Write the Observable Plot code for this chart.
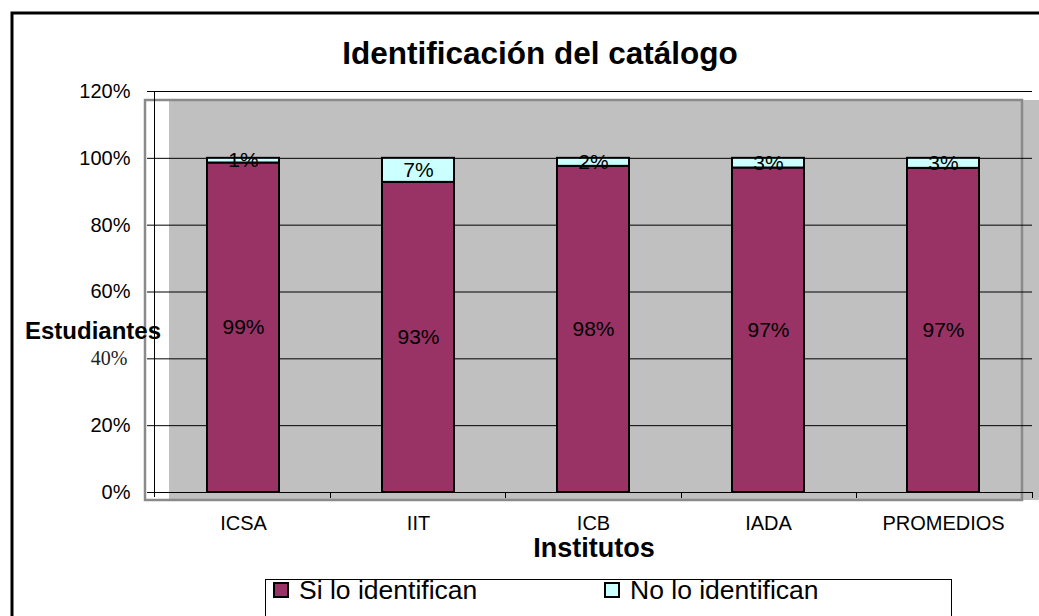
<!DOCTYPE html>
<html>
<head>
<meta charset="utf-8">
<script src="https://cdn.jsdelivr.net/npm/d3@7"></script>
<script src="https://cdn.jsdelivr.net/npm/@observablehq/plot@0.6"></script>
<style>
  html, body { margin: 0; padding: 0; background: #fff; }
  #chart { width: 1039px; height: 616px; overflow: hidden; }
</style>
</head>
<body>
<div id="chart"></div>
<script>
// ---- data ----
const categories = ["ICSA", "IIT", "ICB", "IADA", "PROMEDIOS"];
const siValues = [98.6, 92.8, 97.6, 97.1, 97.0];
const noValues = [1.4, 7.2, 2.4, 2.9, 3.0];
const seriesNames = ["Si lo identifican", "No lo identifican"];
const seriesColors = ["#993366", "#CCFFFF"];
const yTicks = [0, 20, 40, 60, 80, 100, 120];
const titleText = "Identificación del catálogo";
const xTitleText = "Institutos";
const yTitleText = "Estudiantes";

const data = categories.flatMap((c, i) => [
  {inst: c, serie: seriesNames[0], value: siValues[i]},
  {inst: c, serie: seriesNames[1], value: noValues[i]}
]);

const FONT = "'Liberation Sans', Arial, sans-serif";
const SVGNS = "http://www.w3.org/2000/svg";

function el(tag, attrs) {
  const e = document.createElementNS(SVGNS, tag);
  for (const k in attrs) e.setAttribute(k, attrs[k]);
  return e;
}

// background decoration (frame, plot area fill & border)
function backdrop(index, scales, values, dim) {
  const g = el("g", {});
  g.appendChild(el("rect", {x: 12, y: 13, width: 1100, height: 1100, fill: "none", stroke: "#000", "stroke-width": 3}));
  const top = dim.marginTop + 9, bottom = dim.height - dim.marginBottom + 8;
  g.appendChild(el("rect", {x: dim.marginLeft + 15, y: top, width: dim.width, height: bottom - top, fill: "#C0C0C0"}));
  g.appendChild(el("rect", {x: dim.marginLeft - 9, y: top, width: dim.width - dim.marginRight - 10 - (dim.marginLeft - 9), height: bottom - top, fill: "none", stroke: "#8a8a8a", "stroke-width": 2.5}));
  return g;
}

// axis line and category boundary ticks
function axisLines(index, scales, values, dim) {
  const g = el("g", {stroke: "#000", "stroke-width": 1});
  const x0 = dim.marginLeft, x1 = dim.width - dim.marginRight;
  const yTop = dim.marginTop, yBot = dim.height - dim.marginBottom;
  g.appendChild(el("line", {x1: x0 + 0.5, x2: x0 + 0.5, y1: yTop, y2: yBot + 5}));
  const n = categories.length;
  for (let i = 1; i <= n; i++) {
    const x = Math.round(x0 + (x1 - x0) * i / n) + 0.5;
    g.appendChild(el("line", {x1: x, x2: x, y1: yBot, y2: yBot + 6}));
  }
  return g;
}

// titles and legend
function overlay(index, scales, values, dim) {
  const g = el("g", {"font-family": FONT, fill: "#000", "text-anchor": "start"});
  const t = el("text", {x: 540, y: 64, "text-anchor": "middle", "font-size": 31.5, "font-weight": "bold"});
  t.textContent = titleText; g.appendChild(t);
  const yt = el("text", {x: 25, y: 339, "text-anchor": "start", "font-size": 24, "font-weight": "bold"});
  yt.textContent = yTitleText; g.appendChild(yt);
  const xt = el("text", {x: 594, y: 557, "text-anchor": "middle", "font-size": 27, "font-weight": "bold"});
  xt.textContent = xTitleText; g.appendChild(xt);
  // legend
  g.appendChild(el("rect", {x: 265.5, y: 579.5, width: 686, height: 80, fill: "#fff", stroke: "#000", "stroke-width": 1}));
  const lx = [274, 605];
  seriesNames.forEach((s, i) => {
    g.appendChild(el("rect", {x: lx[i], y: 583, width: 14, height: 14, fill: seriesColors[i], stroke: "#000", "stroke-width": 2}));
    const lt = el("text", {x: lx[i] + 25, y: 599, "text-anchor": "start", "font-size": 26.5});
    lt.textContent = s; g.appendChild(lt);
  });
  return g;
}

const chart = Plot.plot({
  width: 1039,
  height: 616,
  marginTop: 91,
  marginBottom: 124,
  marginLeft: 154,
  marginRight: 7,
  style: {background: "transparent", fontFamily: FONT, color: "#000"},
  x: {domain: categories, paddingInner: 0.59, paddingOuter: 0.295, label: null},
  y: {domain: [0, 120], label: null},
  color: {domain: seriesNames, range: seriesColors},
  marks: [
    backdrop,
    Plot.ruleY(yTicks, {stroke: "#000", strokeWidth: 1}),
    Plot.axisY({ticks: yTicks.filter(d => d !== 40), tickSize: 7, tickPadding: 17, tickFormat: d => d + "%", fontSize: 20, label: null}),
    Plot.axisY({ticks: [40], tickSize: 7, tickPadding: 20, tickFormat: d => d + "%", fontSize: 20, fontFamily: "'Liberation Serif', 'Times New Roman', serif", fill: "#222", label: null}),
    Plot.axisX({tickSize: 0, tickPadding: 23, fontSize: 20, label: null}),
    Plot.barY(data, {x: "inst", y: "value", fill: "serie", stroke: "#000", strokeWidth: 2}),
    Plot.text(data, Plot.stackY({x: "inst", y: "value", text: d => Math.round(d.value) + "%", fontSize: 21, fill: "#000"})),
    axisLines,
    overlay
  ]
});

document.getElementById("chart").appendChild(chart);
</script>
</body>
</html>
